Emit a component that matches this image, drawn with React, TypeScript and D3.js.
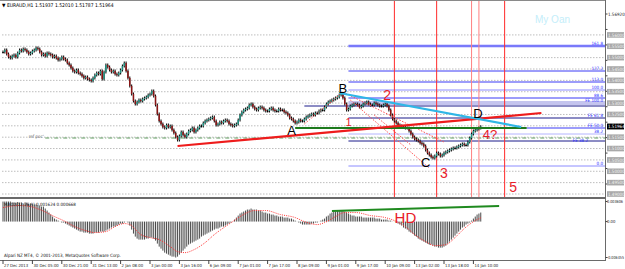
import React from "react";
import * as d3 from "d3";

// ---------- DATA ----------
const title = "EURAUD,H1 1.51937 1.52010 1.51787 1.51964";
const macdTitle = "MACD(12,26,9) 0.001624 0.000668";
const copyright = "Alpari NZ MT4, © 2001-2013, MetaQuotes Software Corp.";

// hourly closes (bar 0 = 27 Dec 2013 13:00)
const closes = [
  1.55248, 1.55336, 1.5516, 1.55028, 1.54984, 1.55072, 1.55116, 1.55028, 1.55204, 1.55336,
  1.55292, 1.5538, 1.55336, 1.55248, 1.5516, 1.55204, 1.55292, 1.55336, 1.55424, 1.5538,
  1.55248, 1.55116, 1.5516, 1.55072, 1.55204, 1.5516, 1.55116, 1.55028, 1.55072, 1.54984,
  1.54896, 1.5494, 1.55028, 1.5494, 1.54896, 1.54764, 1.54676, 1.54544, 1.54412, 1.54368,
  1.54456, 1.54324, 1.5428, 1.54192, 1.54104, 1.54148, 1.5406, 1.54016, 1.53972, 1.54104,
  1.54236, 1.54324, 1.5428, 1.54412, 1.5406, 1.54368, 1.54676, 1.54588, 1.54456, 1.54368,
  1.54412, 1.5428, 1.54236, 1.54324, 1.54456, 1.54632, 1.54764, 1.54412, 1.54104, 1.53752,
  1.534, 1.53092, 1.5296, 1.53048, 1.53136, 1.53092, 1.5318, 1.53224, 1.53268, 1.53356,
  1.534, 1.53532, 1.53312, 1.52916, 1.5252, 1.52212, 1.5208, 1.51948, 1.51904, 1.52036,
  1.51948, 1.51992, 1.51816, 1.51684, 1.51508, 1.51376, 1.51552, 1.51728, 1.51596, 1.51508,
  1.5164, 1.51772, 1.51816, 1.51904, 1.51728, 1.51816, 1.51904, 1.51992, 1.51992, 1.52124,
  1.52212, 1.52256, 1.523, 1.52344, 1.52388, 1.52212, 1.52036, 1.5208, 1.52168, 1.52124,
  1.52212, 1.52256, 1.52212, 1.5208, 1.52036, 1.51992, 1.52036, 1.5208, 1.52256, 1.52476,
  1.52608, 1.52696, 1.5274, 1.52784, 1.52916, 1.5296, 1.52828, 1.5274, 1.52696, 1.52784,
  1.52828, 1.52784, 1.52696, 1.52652, 1.52652, 1.5274, 1.52784, 1.52696, 1.52652, 1.52652,
  1.5274, 1.52696, 1.52696, 1.52608, 1.52564, 1.52476, 1.52344, 1.523, 1.52212, 1.52124,
  1.52168, 1.52256, 1.52212, 1.52212, 1.523, 1.52388, 1.52432, 1.52476, 1.5252, 1.52476,
  1.52564, 1.52564, 1.52652, 1.52696, 1.52696, 1.52828, 1.5296, 1.53048, 1.53092, 1.53136,
  1.5318, 1.53224, 1.53268, 1.53356, 1.534, 1.53224, 1.5296, 1.52696, 1.5274, 1.52872,
  1.52916, 1.5296, 1.5296, 1.52916, 1.52828, 1.52872, 1.5296, 1.53004, 1.53048, 1.5296,
  1.52916, 1.52916, 1.53004, 1.5296, 1.52916, 1.52872, 1.52872, 1.52916, 1.5296, 1.52872,
  1.52696, 1.52476, 1.523, 1.52212, 1.52124, 1.52036, 1.51992, 1.51948, 1.51948, 1.51904,
  1.51904, 1.51772, 1.5164, 1.51508, 1.5142, 1.51376, 1.51332, 1.51244, 1.512, 1.51112,
  1.50936, 1.50804, 1.50716, 1.50628, 1.50584, 1.50672, 1.50804, 1.5076, 1.50672, 1.50716,
  1.50804, 1.50848, 1.50892, 1.50936, 1.5098, 1.51024, 1.51024, 1.51068, 1.51112, 1.51156,
  1.512, 1.51156, 1.51156, 1.51288, 1.51464, 1.5164, 1.51772, 1.51816, 1.5186, 1.51904,
  1.51964,
];

const macd = [
  0.0036, 0.0036, 0.003606, 0.0036, 0.0036, 0.00342, 0.00342, 0.00342, 0.00351, 0.00342,
  0.00342, 0.00324, 0.00342, 0.00342, 0.00324, 0.00324, 0.00306, 0.00306, 0.00306, 0.00288,
  0.00288, 0.0027, 0.0027, 0.00234, 0.00198, 0.00162, 0.00126, 0.0009, 0.00054, 0.00036,
  0.00018, 0.00002, -0.00018, -0.00018, -0.00036, -0.00054, -0.00072, -0.0009, -0.00108, -0.00126,
  -0.00144, -0.00162, -0.0018, -0.0018, -0.00198, -0.00198, -0.00198, -0.00216, -0.00216, -0.00216,
  -0.00198, -0.00198, -0.00198, -0.0018, -0.0018, -0.0018, -0.00162, -0.00144, -0.00126, -0.00108,
  -0.0009, -0.0009, -0.00072, -0.00054, -0.00036, -0.00036, -0.00018, 0.00002, -0.00018, -0.00072,
  -0.00144, -0.00216, -0.0027, -0.00306, -0.00324, -0.00324, -0.00324, -0.00324, -0.00306, -0.00306,
  -0.00288, -0.00288, -0.00306, -0.00342, -0.00396, -0.0045, -0.00486, -0.00522, -0.00558, -0.00576,
  -0.00594, -0.00612, -0.0063, -0.0063, -0.006455, -0.0063, -0.00594, -0.00558, -0.00522, -0.00486,
  -0.0045, -0.00414, -0.00396, -0.00378, -0.0036, -0.00342, -0.00324, -0.00306, -0.0027, -0.00252,
  -0.00234, -0.00216, -0.00198, -0.0018, -0.00162, -0.00144, -0.00126, -0.00126, -0.00108, -0.0009,
  -0.0009, -0.00072, -0.00054, -0.00036, -0.00018, 0.00002, 0.00036, 0.00072, 0.00108, 0.00144,
  0.00162, 0.0018, 0.00198, 0.00216, 0.00216, 0.00234, 0.00216, 0.00216, 0.00216, 0.00198,
  0.00198, 0.0018, 0.00162, 0.00162, 0.00144, 0.00144, 0.00126, 0.00126, 0.00108, 0.00108,
  0.0009, 0.0009, 0.0009, 0.00072, 0.00072, 0.00072, 0.00054, 0.00054, 0.00036, 0.00018,
  0.00002, -0.00018, -0.00036, -0.00054, -0.00054, -0.00054, -0.00054, -0.00054, -0.00036, -0.00036,
  -0.00018, -0.00018, 0.00002, 0.00018, 0.00036, 0.00054, 0.0009, 0.00108, 0.00144, 0.00162,
  0.0018, 0.0018, 0.00198, 0.00198, 0.00198, 0.00198, 0.0018, 0.00162, 0.00144, 0.00126,
  0.00108, 0.00108, 0.0009, 0.0009, 0.0009, 0.0009, 0.00072, 0.00072, 0.00072, 0.00072,
  0.00072, 0.00072, 0.00072, 0.00054, 0.00054, 0.00054, 0.00036, 0.00036, 0.00036, 0.00036,
  0.00018, 0.00018, 0.00002, 0.00002, -0.00018, -0.00036, -0.00054, -0.00072, -0.00108, -0.00126,
  -0.00144, -0.0018, -0.00198, -0.00216, -0.00252, -0.0027, -0.00306, -0.00324, -0.00342, -0.0036,
  -0.00378, -0.00396, -0.00414, -0.00414, -0.00432, -0.0045, -0.0045, -0.00468, -0.00468, -0.00468,
  -0.0045, -0.00432, -0.00396, -0.0036, -0.00324, -0.00288, -0.00252, -0.00216, -0.0018, -0.00144,
  -0.00108, -0.0009, -0.00054, -0.00036, -0.00018, 0.00018, 0.00054, 0.0009, 0.00126, 0.00144,
  0.001624,
];

const signalBars = [0, 9, 15, 20, 28, 34, 39, 45, 50, 56, 61, 66, 69, 75, 80, 85, 91, 95, 99, 104, 110, 115, 121, 125, 129, 137, 143, 151, 159, 164, 171, 175, 181, 186, 192, 200, 208, 213, 219, 224, 230, 235, 241, 246, 251, 257, 260];
const signalVals = [0.00252, 0.00288, 0.0027, 0.00216, 0.0009, 0, -0.0009, -0.00162, -0.00198, -0.0018, -0.0009, -0.00036, -0.00054, -0.00234, -0.00288, -0.00324, -0.0045, -0.0054, -0.00558, -0.00504, -0.00378, -0.00234, -0.0009, 0, 0.0009, 0.00198, 0.00198, 0.00126, 0.00072, 0, -0.00054, -0.00018, 0.0009, 0.00162, 0.00162, 0.00108, 0.00072, 0.00018, -0.0009, -0.00234, -0.0036, -0.00432, -0.00414, -0.00288, -0.00126, 0.00018, 0.000668];

const timeLabels = ["27 Dec 2013", "30 Dec 05:00", "30 Dec 21:00", "31 Dec 13:00", "2 Jan 08:00", "3 Jan 00:00", "3 Jan 16:00", "6 Jan 09:00", "7 Jan 01:00", "7 Jan 17:00", "8 Jan 09:00", "9 Jan 01:00", "9 Jan 17:00", "10 Jan 09:00", "13 Jan 02:00", "13 Jan 18:00", "14 Jan 10:00"];
const timeLabelStep = 16;

const priceTicks = [1.5692, 1.5624, 1.5556, 1.5488, 1.542, 1.5352, 1.5284, 1.5216, 1.5148, 1.508, 1.5012, 1.4944];
const roundLevels = [1.56, 1.555, 1.55, 1.545, 1.54, 1.535, 1.53, 1.525, 1.52, 1.515, 1.51, 1.505, 1.5, 1.495, 1.49];
const lastPrice = 1.51964;
const macdTicks = [0.003606, 0, -0.006455];
const macdTickLabels = ["0.003606", "0.00", "-0.006455"];

const fibPrices = [1.55512, 1.54412, 1.53928, 1.53576, 1.53224, 1.53004, 1.52872, 1.52344, 1.51904, 1.5164, 1.51332, 1.50232];
const fibLabels = ["161.8", "127.2", "113.0", "100.0", "88.6", "FE 100.0", "", "FE 61.8", "FE 50.0", "38.2", "", "0.0"];
const fibStartBars = [188, 188, 188, 188, 188, 188, 164, 188, 285, 188, 188, 188];
const fibColors = ["#3a3af5", "#3a3af5", "#3a3af5", "#8c8cff", "#3a3af5", "#c4c4ee", "#1a1a8a", "#1a1a8a", "#3a3af5", "#b4b4ff", "#1a1a8a", "#8c8cff"];
const fibWidths = [1, 1, 1, 1, 1, 4, 1, 1, 1, 1, 1, 1];

const pocPrice = 1.51464;
const pocStartBar = 23;

const redTrend = [[95, 1.51112], [293, 1.52564]];
const greenTrend = [[159, 1.51904], [285, 1.51904]];
const cyanTrend = [[183, 1.53444], [282, 1.51948]];
const dottedLines = [
  [[164, 1.5208], [185, 1.53488]],
  [[185, 1.53488], [240, 1.51288]],
  [[189, 1.53136], [232, 1.50144]],
  [[202, 1.52476], [222, 1.51156]],
];
const timeLineBars = [213, 236, 255, 259, 273];
const timeLineColors = ["#ff2a2a", "#ff2a2a", "#ff8080", "#ff8080", "#ff2a2a"];

const waveLabels = [
  { t: "A", bar: 157, p: 1.51596, c: "#000", s: 13 },
  { t: "B", bar: 185, p: 1.53444, c: "#000", s: 13 },
  { t: "C", bar: 230, p: 1.50188, c: "#000", s: 13 },
  { t: "D", bar: 258.5, p: 1.52344, c: "#000", s: 13 },
  { t: "1", bar: 188, p: 1.51992, c: "#e8202a", s: 11 },
  { t: "2", bar: 209, p: 1.53136, c: "#e8202a", s: 14 },
  { t: "3", bar: 240, p: 1.49704, c: "#e8202a", s: 14 },
  { t: "4?", bar: 265, p: 1.5142, c: "#e8202a", s: 13 },
  { t: "5", bar: 277.6, p: 1.49088, c: "#e8202a", s: 14 },
];
const macdTrend = [[179, 0.0019], [270, 0.0028]];
const hdLabel = { t: "HD", bar: 219, v: -0.0003 };

// ---------- LAYOUT ----------
const W = 625, H = 269;
const RIGHT = 605.5;
const font = "'Liberation Sans', Arial, sans-serif";
const axisFont = "'DejaVu Sans Condensed', 'Liberation Sans Narrow', 'Liberation Sans', sans-serif";

export default function App() {
  const x = d3.scaleLinear().domain([0, 256]).range([3, 473.4]);
  const y = d3.scaleLinear().domain([1.48912, 1.57448]).range([196, 2]);
  const ym = d3.scaleLinear().domain([-0.006455, 0.003606]).range([257.5, 201.5]);

  const sigLine = d3
    .line<number>()
    .x((_, i) => x(signalBars[i]))
    .y((d) => ym(d))
    .curve(d3.curveMonotoneX)(signalVals) as string;

  const seg = (a: number[][]) => ({ x1: x(a[0][0]), y1: y(a[0][1]), x2: x(a[1][0]), y2: y(a[1][1]) });

  // plain tick labels are hidden by the level boxes in the terminal when they collide
  const boxYs = [...roundLevels, lastPrice].map((p) => y(p));
  const visibleTicks = priceTicks.filter((p) => boxYs.every((b) => Math.abs(b - y(p)) > 6.5));

  return (
    <svg width={W} height={H} style={{ position: "absolute", left: 0, top: 0, background: "#fff" }} fontFamily={font}>
      <rect x={0} y={0} width={W} height={H} fill="#fff" />
      {/* round-number levels */}
      {roundLevels.map((p, i) => (
        <line key={"r" + i} x1={2} x2={RIGHT} y1={y(p)} y2={y(p)} stroke="#bdbdbd" strokeDasharray="1.5,1.5" strokeWidth={1} />
      ))}
      {/* fib levels */}
      <line x1={x(fibStartBars[0])} x2={RIGHT} y1={y(fibPrices[0])} y2={y(fibPrices[0])} stroke="#b8b8ff" strokeWidth={3} />
      {fibPrices.map((p, i) => (
        <line key={"f" + i} x1={x(fibStartBars[i])} x2={RIGHT} y1={y(p)} y2={y(p)} stroke={fibColors[i]} strokeWidth={fibWidths[i]} />
      ))}
      {fibPrices.map((p, i) =>
        fibLabels[i] ? (
          <text key={"fl" + i} x={603} y={y(p) - 1.5} fontSize={4.5} fill="#2828ff" textAnchor="end" fontFamily={axisFont}>
            {fibLabels[i]}
          </text>
        ) : null
      )}
      {/* poc line */}
      <line x1={x(pocStartBar)} x2={RIGHT} y1={y(pocPrice)} y2={y(pocPrice)} stroke="#5f9a5f" strokeDasharray="4,2,1,2" strokeWidth={1} />
      <text x={x(14)} y={y(pocPrice) - 0.5} fontSize={4.5} fill="#6a6a6a" fontFamily={axisFont}>ref poc'</text>
      <text x={588} y={y(pocPrice) + 3.5} fontSize={4.5} fill="#2828ff" textAnchor="end" fontFamily={axisFont}>FE 38.2</text>

      {/* vertical time lines */}
      {timeLineBars.map((b, i) => (
        <line key={"v" + i} x1={x(b)} x2={x(b)} y1={1} y2={197} stroke={timeLineColors[i]} strokeWidth={1} />
      ))}

      {/* candles */}
      {closes.map((c, i) => {
        const o = i > 0 ? closes[i - 1] : c;
        const yo = y(o), yc = y(c);
        const top = Math.min(yo, yc), bot = Math.max(yo, yc);
        const col = c > o ? "#1f8f7f" : c < o ? "#8a1414" : "#000";
        return (
          <g key={"c" + i}>
            <line x1={x(i)} x2={x(i)} y1={top - 1.5} y2={bot + 1.5} stroke="#111" strokeWidth={1.1} />
            <rect x={x(i) - 0.75} y={top} width={1.5} height={Math.max(bot - top, 1)} fill={col} />
          </g>
        );
      })}

      {/* dotted red lines */}
      {dottedLines.map((l, i) => (
        <line key={"d" + i} {...seg(l)} stroke="#ff5050" strokeDasharray="1.5,1.5" strokeWidth={1} />
      ))}
      {/* trend lines */}
      <line {...seg(greenTrend)} stroke="#1d7a1d" strokeWidth={2.2} />
      <line {...seg(redTrend)} stroke="#ee1c1c" strokeWidth={2.2} />
      <line {...seg(cyanTrend)} stroke="#2fb6e6" strokeWidth={2.2} />

      {/* wave labels */}
      {waveLabels.map((w, i) => (
        <text key={"w" + i} x={x(w.bar)} y={y(w.p)} fontSize={w.s} fill={w.c} textAnchor="middle">
          {w.t}
        </text>
      ))}

      <text x={535} y={23} fontSize={10} fill="#c4eefa">My Oan</text>
      <text x={2} y={7} fontSize={5} fill="#000" fontFamily={axisFont}>▼ {title}</text>

      {/* frames */}
      <line x1={0} x2={RIGHT} y1={0.5} y2={0.5} stroke="#8a8a8a" />
      <rect x={0} y={197} width={RIGHT} height={2} fill="#6a6a6a" />
      <line x1={RIGHT} x2={RIGHT} y1={0} y2={261} stroke="#6a6a6a" />
      <line x1={0} x2={RIGHT} y1={260.5} y2={260.5} stroke="#6a6a6a" />

      {/* price axis */}
      {priceTicks.map((p, i) => (
        <line key={"tk" + i} x1={RIGHT} x2={RIGHT + 2} y1={y(p)} y2={y(p)} stroke="#444" />
      ))}
      {visibleTicks.map((p, i) => (
        <text key={"t" + i} x={608} y={y(p) + 1.6} fontSize={4.5} fill="#222" fontFamily={axisFont}>{p.toFixed(5)}</text>
      ))}
      {roundLevels.map((p, i) => (
        <g key={"rb" + i}>
          <rect x={607} y={y(p) - 2.8} width={17} height={5.6} fill="#a9a9a9" />
          <text x={608} y={y(p) + 1.6} fontSize={4.5} fill="#f4f4f4" fontFamily={axisFont}>{p.toFixed(5)}</text>
        </g>
      ))}
      <rect x={607} y={y(lastPrice) - 2.8} width={17} height={5.6} fill="#000" />
      <text x={608} y={y(lastPrice) + 1.6} fontSize={4.5} fill="#fff" fontFamily={axisFont}>{lastPrice.toFixed(5)}</text>

      {/* MACD */}
      {macd.map((v, i) => (
        <line key={"m" + i} x1={x(i)} x2={x(i)} y1={ym(0)} y2={ym(v)} stroke="#4a4a4a" strokeWidth={1} />
      ))}
      <path d={sigLine} fill="none" stroke="#ff3030" strokeWidth={1} strokeDasharray="1,1.2" />
      <line x1={x(macdTrend[0][0])} y1={ym(macdTrend[0][1])} x2={x(macdTrend[1][0])} y2={ym(macdTrend[1][1])} stroke="#1f8a1f" strokeWidth={2} />
      <text x={x(hdLabel.bar)} y={ym(hdLabel.v)} fontSize={15} fill="#e8202a" textAnchor="middle">{hdLabel.t}</text>
      <text x={4} y={206} fontSize={4.5} fill="#111" fontFamily={axisFont}>{macdTitle}</text>
      <text x={4} y={257} fontSize={4.5} fill="#111" fontFamily={axisFont}>{copyright}</text>
      {macdTicks.map((v, i) => (
        <g key={"mt" + i}>
          <line x1={RIGHT} x2={RIGHT + 2} y1={ym(v)} y2={ym(v)} stroke="#444" />
          <text
            x={607}
            y={Math.min(ym(v) + 1.6, 259)}
            fontSize={4.2}
            fill="#222"
            fontFamily={axisFont}
            textLength={macdTickLabels[i].length > 4 ? (macdTickLabels[i].length > 8 ? 17 : 16) : undefined}
            lengthAdjust="spacingAndGlyphs"
          >
            {macdTickLabels[i]}
          </text>
        </g>
      ))}

      {/* time axis */}
      {timeLabels.map((t, i) => (
        <g key={"x" + i}>
          <line x1={x(i * timeLabelStep)} x2={x(i * timeLabelStep)} y1={260} y2={264} stroke="#444" />
          <text x={x(i * timeLabelStep) + 1} y={267} fontSize={4.2} fill="#222" fontFamily={axisFont}>{t}</text>
        </g>
      ))}
    </svg>
  );
}
